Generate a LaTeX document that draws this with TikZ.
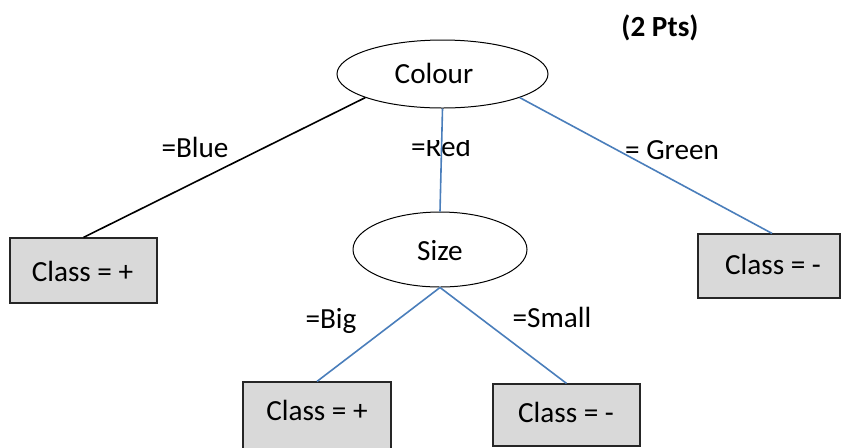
\documentclass[tikz,border=0pt]{standalone}
\usepackage{fontspec}
\setmainfont{Carlito}
\usetikzlibrary{shapes.geometric}
\definecolor{lineblue}{HTML}{4A7EBB}
\definecolor{boxgray}{HTML}{D9D9D9}
\begin{document}
\begin{tikzpicture}[x=0.5pt,y=-0.5pt,
  every node/.style={font=\fontsize{14.6}{17}\selectfont},
  lbl/.style={anchor=base,inner sep=0pt},
  decision/.style={ellipse,draw=black,line width=0.5pt,fill=white,inner sep=0pt},
  leaf/.style={rectangle,draw=black!85,line width=0.6pt,fill=boxgray,inner sep=0pt},
  edgeb/.style={lineblue,line width=0.8pt},
  edgek/.style={black,line width=0.8pt}]
\clip (0,0) rectangle (841,447);
% title
\node[lbl,font=\fontsize{14.6}{17}\selectfont\bfseries] (pts) at (660,36) {(2 Pts)};
% decision nodes
\node[decision,minimum width=105.5pt,minimum height=34pt] (colour) at (442.5,74) {};
\node[lbl] (colourt) at (434,83) {Colour};
\node[decision,minimum width=87pt,minimum height=37.5pt] (size) at (440,249.5) {};
\node[lbl] (sizet) at (440,260) {Size};
% leaves
\node[leaf,minimum width=73.5pt,minimum height=32.5pt] (b1) at (83.5,270.5) {};
\node[lbl] (b1t) at (82.5,281) {Class = +};
\node[leaf,minimum width=71pt,minimum height=32pt] (b2) at (769,266) {};
\node[lbl] (b2t) at (773,274) {Class = -};
\node[leaf,minimum width=74pt,minimum height=44pt] (b3) at (317,426) {};
\node[lbl] (b3t) at (317,420) {Class = +};
\node[leaf,minimum width=73.5pt,minimum height=31pt] (b4) at (566.5,415) {};
\node[lbl] (b4t) at (566,422) {Class = -};
% edge labels
\node[lbl] (lblue) at (195,157) {=Blue};
\begin{scope}
  \clip (380,140) rectangle (500,175);
  \node[lbl] (lred) at (441,156) {=Red};
\end{scope}
\node[lbl] (lgreen) at (672,159) {= Green};
\node[lbl] (lbig) at (331,328) {=Big};
\node[lbl] (lsmall) at (552,327) {=Small};
% connectors
\draw[edgek] (colour.197) -- (b1.north);
\draw[edgeb] (colour.south) -- (size.north);
\draw[edgeb] (colour.343) -- ([xshift=1.5pt]b2.north);
\draw[edgeb] (size.south) -- (b3.north);
\draw[edgeb] (size.south) -- (b4.north);
\end{tikzpicture}
\end{document}
